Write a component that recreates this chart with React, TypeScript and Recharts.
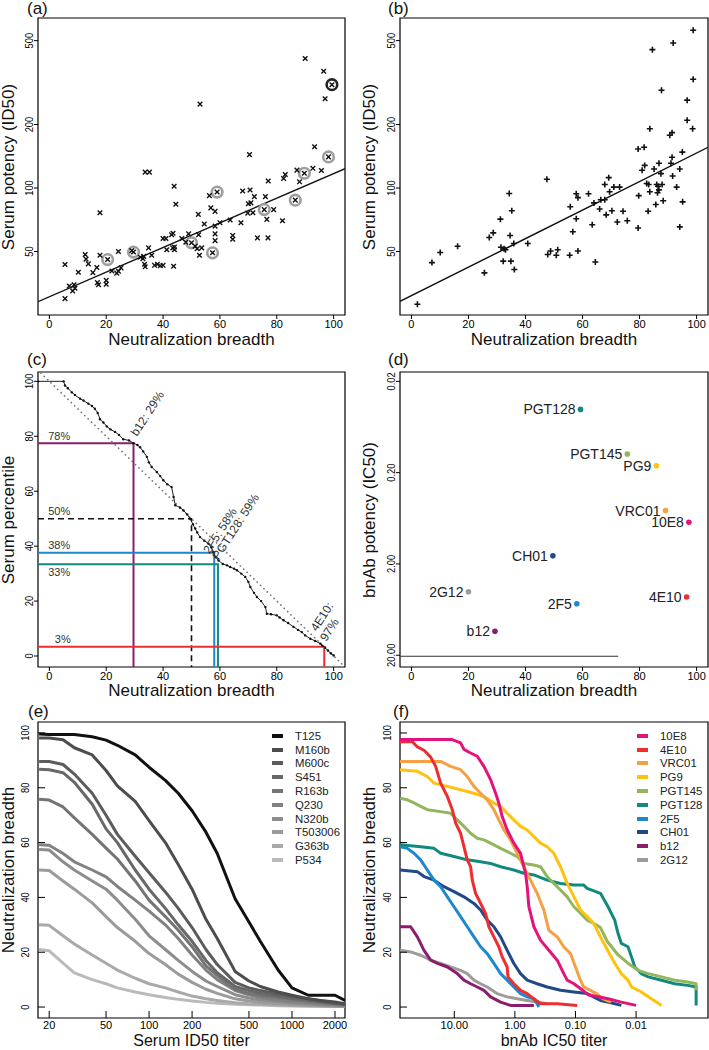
import React from "react";
import { ComposedChart, Line, Scatter, XAxis, YAxis, ReferenceArea } from "recharts";

const FONT = '"Liberation Sans", Arial, Helvetica, sans-serif';

const breadthTicks = [0, 20, 40, 60, 80, 100];
const potencyTicks = [50, 100, 200, 500];
const ic50Ticks = [0.02, 0.2, 2, 20];
const titerTicks = [20, 50, 100, 200, 500, 1000, 2000];
const bnabTiterTicks = [10, 1, 0.1, 0.01];

// (a) serum potency vs neutralization breadth (x marks)
const aBreadth = [5.5, 5.5, 7.0, 8.2, 9.0, 8.7, 10.2, 12.6, 12.9, 13.7, 15.3, 16.7, 16.9, 17.3, 17.8, 17.8, 20, 20, 20.5, 22, 23.7, 24.3, 24.3, 25.2, 29.6, 29, 32, 32.9, 33.2, 33.5, 33.7, 33.7, 35.2, 34.9, 36, 37, 38, 39, 40, 40, 41, 41.3, 43.4, 43.7, 43.9, 44.5, 43, 43.5, 44, 44, 46.6, 48, 49, 50, 51.3, 52, 52.5, 52.8, 52.4, 53, 53.6, 54.5, 56.3, 56.8, 57.4, 58.3, 58.3, 58.3, 58.3, 59, 60, 63.6, 64.5, 64.5, 67.4, 68, 69.8, 70, 70.4, 70.6, 70.9, 71.6, 72.1, 73.2, 75.6, 76, 76.5, 76.9, 77, 78.9, 82, 82.4, 83, 86.5, 87.1, 88, 89.7, 90, 92.7, 93.3, 95.7, 96.5, 97, 98.2, 99.4];
const aPotency = [43.4, 29.9, 34.3, 32.5, 33.5, 34.8, 39.9, 48.4, 46, 43.7, 39.7, 42, 35.6, 34.8, 76.3, 48, 35, 36.5, 45.8, 40.4, 39.5, 40.3, 50, 41.8, 49.7, 50.5, 47, 46.2, 47.4, 43.5, 42.3, 119, 119, 52, 48, 43, 43.5, 42.8, 43, 57.6, 57.6, 51, 52, 42.6, 102, 83.8, 60, 61, 51, 52.5, 57.6, 55.3, 60.6, 55, 53, 51.5, 60, 48, 75, 250, 52, 67.5, 92, 80.5, 49.3, 77.5, 66, 60.6, 56.3, 95.7, 68.5, 70.5, 59.6, 57.2, 68.4, 96.8, 76, 84.2, 144, 97.8, 85, 76.4, 91, 58, 79, 91, 71, 58, 108, 79, 70, 111, 116, 87.6, 121.6, 107, 117.5, 411, 124, 157, 121, 358, 265, 140.5, 309];
const aRingBreadth = [20.5, 29.6, 50, 57.4, 59, 75.6, 86.5, 89.7, 98.2];
const aRingPotency = [45.8, 49.7, 55, 49.3, 95.7, 79, 87.6, 117.5, 140.5];
const aDarkRingBreadth = [99.4];
const aDarkRingPotency = [309];
const aFitBreadth = [-4, 104];
const aFitPotency = [28.9, 123.6];

// (b) second serum panel (+ marks)
const bBreadth = [2.1, 7.2, 10.1, 16.2, 25.6, 27.3, 28.7, 31.2, 31.4, 32.5, 33, 32.2, 34.3, 34.6, 34.9, 35.2, 35.9, 36.1, 40.8, 47.5, 47.8, 48.8, 50.8, 51.3, 55.5, 55.7, 56.6, 57.8, 57.8, 58.4, 58.4, 62.1, 63.4, 64, 64.5, 66, 66.4, 67.8, 67.8, 68.3, 69.2, 69.5, 70.3, 71, 73, 74.2, 72.2, 75.7, 79.5, 79.7, 79.5, 81.6, 80.9, 81.8, 82.5, 83.2, 83, 83.6, 83.6, 84.5, 85.1, 85.7, 86, 86.5, 86.8, 86.3, 86.8, 87.5, 87.7, 87.9, 88.3, 90.6, 91.4, 91, 91.4, 91.6, 91.8, 93, 94.1, 94.1, 95, 95.1, 96.7, 96.7, 98.6, 98.8, 98.8];
const bPotency = [28.1, 44.3, 49.5, 53, 39.6, 58.3, 61.3, 71.2, 52.4, 51.5, 51, 45, 94.2, 59.6, 45, 78, 54.6, 41.1, 54.6, 110, 48.4, 50.3, 48, 51, 48, 81.5, 62, 71.5, 94, 90, 50.3, 94, 67, 85, 44.6, 79.5, 88, 88, 104, 74.6, 112, 96, 78, 101, 101, 77.6, 69, 70, 64.6, 92, 153, 156, 121.5, 128, 105, 104, 77.6, 191, 96, 453, 123, 83.6, 104, 102, 98, 95, 131, 117, 291, 104, 87, 178, 183, 131, 140, 114, 487, 101, 123, 65.4, 148, 86, 261, 209.6, 191, 328, 560];
const bFitBreadth = [-4, 104];
const bFitPotency = [29, 156];

// (c) serum percentile vs breadth
const cCurveBreadth = [-4, 5, 5.5, 6.5, 7.9, 9, 10.8, 12, 13.7, 15, 16, 17, 17.8, 19, 20.2, 21.5, 23.1, 24.5, 26, 28, 29.6, 31, 31.9, 33, 34.3, 35, 36, 37.8, 39, 40.1, 41.5, 43, 43.7, 44.3, 46, 47.2, 48.5, 49.5, 50.5, 51.3, 52, 53, 54.5, 56, 57, 57.7, 58.5, 59.5, 61, 62.5, 63.6, 65, 66, 67.5, 68.9, 70, 70.7, 72, 73, 74.5, 76, 76.5, 78, 80, 81, 82.4, 84, 85.9, 87.5, 88.8, 90, 91.8, 93.5, 95.3, 96, 97, 98, 99, 100];
const cCurvePct = [100, 100, 98.5, 97.5, 96, 95, 93.7, 93, 91.9, 91, 90, 88.5, 86.2, 85, 83.6, 82.5, 81.6, 80.5, 78.9, 78.5, 77.5, 76.8, 76, 74.5, 72.5, 70.5, 68.8, 67, 65.5, 64, 62.5, 61.5, 57.9, 54.9, 54, 53, 51.5, 50, 48, 46.4, 45, 43.3, 42, 40.9, 39.5, 37.9, 36, 34.8, 33.5, 33, 32.4, 31.8, 31.2, 30, 28.8, 27, 25.1, 23, 21.5, 20, 17.8, 15.4, 15.2, 14.8, 14, 13, 12, 10.6, 9.5, 8.7, 7.5, 6.3, 5.5, 4.5, 3.8, 3, 2, 1, 0.2];
const cDiagBreadth = [-3, 103];
const cDiagPct = [103, -3];
const cCutBreadth = [29.6, 50, 58, 59.3, 96.7];
const cCutPct = [77.5, 50, 37.6, 33.4, 3.4];
const cPctText = ["78%", "50%", "38%", "33%", "3%"];
const cPctTextX = [-0.4, -0.4, -0.4, -0.4, 1.9];
const cPctTextY = [78.8, 51.3, 38.9, 29.2, 4.8];
const cAbText = ["b12: 29%", "2F5: 58%", "PGT128: 59%", "4E10:", "97%"];
const cAbTextX = [30.8, 56.3, 59.5, 94.1, 97.4];
const cAbTextY = [79.7, 37, 34.8, 8.7, 5.1];

// (d) bnAb potency vs breadth
const abNames = ["10E8", "4E10", "VRC01", "PG9", "PGT145", "PGT128", "2F5", "CH01", "b12", "2G12"];
const dBreadth = [97.3, 96.5, 89.1, 85.9, 75.7, 59.3, 58, 49.6, 29.3, 20];
const dIC50 = [0.7, 4.6, 0.52, 0.168, 0.125, 0.0406, 5.46, 1.63, 10.9, 4.03];
const dBaseBreadth = [-4, 72.5];
const dBaseIC50 = [20.5, 20.5];

// (e) breadth vs serum ID50 titer
const serumNames = ["T125", "M160b", "M600c", "S451", "R163b", "Q230", "N320b", "T503006", "G363b", "P534"];
const eTiters = [17, 20, 25, 30, 40, 50, 60, 80, 100, 130, 160, 200, 250, 300, 400, 500, 600, 800, 1000, 1300, 1600, 2000, 2350];
const eT125 = [99.6, 99.4, 99.4, 99.4, 98.6, 97.4, 95.5, 92, 87.5, 82.7, 78, 71.6, 63.8, 56, 39.5, 31, 24, 13.5, 7, 4.3, 4.3, 4.3, 2.4];
const eM160b = [98.2, 98.2, 97.5, 94.6, 92, 86.3, 80.7, 75, 68, 60, 52, 43, 32, 25, 13, 9.5, 7.5, 5.5, 4.3, 3, 2.4, 1.8, 1.2];
const eM600c = [89.6, 89.6, 88.5, 85, 78, 70, 63, 55, 49, 42, 36, 29, 21, 15.5, 9, 7, 6, 4.8, 3.8, 3, 2.2, 1.5, 1];
const eS451 = [86.8, 86.6, 85.5, 82, 74, 65, 60, 50, 43, 36, 30, 24, 17, 12.5, 7.5, 6, 5, 4, 3.2, 2.4, 1.8, 1.2, 0.8];
const eR163b = [75.8, 75.5, 73, 69, 63, 58, 54, 46, 39, 33, 28, 22, 15, 11.5, 6.5, 5, 4.2, 3.5, 2.8, 2.2, 1.7, 1.2, 0.9];
const eQ230 = [59.2, 59, 56, 53, 50, 47.5, 44, 39, 35, 30, 25, 19, 13.5, 10, 6, 4.5, 3.5, 2.6, 2, 1.5, 1.1, 0.8, 0.6];
const eN320b = [57.5, 57.3, 53, 50, 46, 43, 39, 32, 26, 21, 17, 13, 9.5, 7.5, 4.5, 3.3, 2.6, 2, 1.5, 1.1, 0.8, 0.6, 0.4];
const eT503006 = [50, 49.8, 46, 43, 38, 33, 29, 24, 19.5, 15.5, 12, 9, 6.5, 5, 3, 2.2, 1.7, 1.2, 0.9, 0.6, 0.5, 0.4, 0.3];
const eG363b = [30, 29.8, 26, 23, 19, 16, 13.5, 10.5, 8.5, 7, 5.5, 4, 3, 2.4, 1.6, 1.2, 1, 0.8, 0.6, 0.5, 0.4, 0.3, 0.3];
const eP534 = [21, 20.5, 16, 12.5, 10, 8.5, 7, 5.5, 4.5, 3.5, 2.8, 2.2, 1.7, 1.4, 1, 0.8, 0.7, 0.5, 0.4, 0.3, 0.3, 0.2, 0.2];
const eSeries = [eT125, eM160b, eM600c, eS451, eR163b, eQ230, eN320b, eT503006, eG363b, eP534];

// (f) breadth vs bnAb IC50 titer
const f10E8Ic = [78.7, 10.8, 7.87, 6.93, 5.38, 4.18, 3.24, 2.52, 2.08, 1.84, 1.62, 1.34, 1.04, 0.807, 0.667, 0.626, 0.588, 0.486, 0.378, 0.275, 0.2, 0.156, 0.137, 0.106, 0.08, 0.062, 0.029, 0.0175, 0.01];
const f10E8Br = [97.6, 97.6, 96.4, 94, 92.7, 91.5, 87.8, 83, 78, 74.4, 69.5, 64.6, 59.8, 56.1, 48.8, 43.9, 36.6, 29.3, 24.4, 20.7, 17.1, 12.2, 9.8, 8.5, 6.5, 4.5, 3, 1.8, 0.6];
const f4E10Ic = [78.7, 49.2, 40.7, 31.6, 24.5, 20.3, 16.8, 13, 10.8, 9.5, 7.87, 6.93, 6.11, 5.38, 5.05, 4.45, 3.68, 3.05, 2.69, 2.22, 1.84, 1.62, 1.34, 1.3, 1.04, 0.807, 0.626, 0.486, 0.378, 0.2, 0.094];
const f4E10Br = [96.8, 96.8, 94.9, 93.7, 91.2, 87.8, 81.7, 76.8, 72, 67.1, 63.4, 58.5, 53.7, 51.2, 46.3, 41.5, 37.8, 34.2, 29.3, 25.6, 22, 18.3, 14.6, 11, 8.5, 6.1, 4.9, 3, 1.2, 1.2, 0.6];
const fVRC01Ic = [78.7, 16.8, 11.5, 7.87, 6.11, 4.74, 3.68, 2.86, 2.22, 1.84, 1.52, 1.18, 0.916, 0.711, 0.552, 0.429, 0.333, 0.275, 0.2, 0.156, 0.121, 0.1, 0.0828, 0.073, 0.0567, 0.045, 0.035, 0.026];
const fVRC01Br = [89.6, 89.6, 87.8, 86.6, 84.1, 80.5, 78, 75.6, 72, 68.3, 64.6, 61, 56.1, 51.2, 46.3, 41.5, 35.4, 28, 25.6, 22, 19.5, 14.6, 9.8, 7.3, 6.1, 4.9, 3, 1.8];
const fPG9Ic = [78.7, 40.7, 27.9, 21.6, 13, 7.87, 4.74, 3.24, 2.22, 1.72, 1.34, 1.04, 0.807, 0.626, 0.486, 0.378, 0.293, 0.228, 0.177, 0.137, 0.106, 0.0828, 0.0642, 0.0499, 0.0387, 0.03, 0.0225, 0.0175, 0.0136, 0.0119, 0.0082, 0.0056, 0.0038];
const fPG9Br = [86.6, 86, 84.1, 81.7, 80.5, 79.3, 78, 76.8, 74.4, 73.2, 70.7, 68.3, 65.9, 64.6, 62.2, 59.8, 58.5, 56.1, 51.2, 45.1, 40.2, 35.4, 33, 30.5, 25.6, 21, 16, 12.2, 9.8, 7.3, 5.5, 3, 0.6];
const fPGT145Ic = [78.7, 59.6, 46.2, 35.9, 27.9, 16.8, 11.5, 8.93, 6.93, 5.38, 4.18, 3.24, 2.52, 1.72, 1.18, 0.916, 0.711, 0.486, 0.378, 0.293, 0.228, 0.177, 0.137, 0.106, 0.0828, 0.0642, 0.0499, 0.0387, 0.03, 0.0198, 0.0136, 0.0093, 0.0063, 0.0038, 0.0023, 0.0014, 0.00102, 0.00102];
const fPGT145Br = [76.2, 75.6, 74.5, 73.2, 72, 71.3, 70.7, 68.3, 65.9, 63.4, 61.6, 61, 59.8, 57.9, 56.1, 54.9, 52.4, 51.8, 51.2, 47.6, 45.1, 42.7, 40.2, 36.6, 34.2, 31.7, 30.5, 29, 24, 19, 16, 13.4, 12.2, 11, 9.8, 9.1, 8.5, 6.1];
const fPGT128Ic = [78.7, 35.9, 21.6, 16.8, 10.1, 6.11, 3.68, 2.52, 1.72, 1.04, 0.711, 0.486, 0.293, 0.177, 0.106, 0.073, 0.0642, 0.0387, 0.029, 0.0225, 0.0198, 0.0175, 0.0136, 0.0119, 0.0105, 0.0082, 0.0063, 0.0038, 0.0023, 0.0014, 0.00102, 0.00102];
const fPGT128Br = [59.2, 58.5, 57.9, 56.1, 54.9, 53.7, 53, 52.4, 51.2, 50, 48.8, 48.2, 46.3, 45.1, 44.5, 44.5, 43.3, 41.5, 36.6, 31.7, 26.8, 23.2, 22, 18.3, 14.6, 12.2, 11, 9.8, 8.5, 7.9, 7.3, 0.6];
const f2F5Ic = [78.7, 59.6, 46.2, 35.9, 27.9, 21.6, 16.8, 13, 10.1, 7.87, 6.11, 4.74, 3.68, 2.86, 2.22, 1.72, 1.34, 1.04, 0.807, 0.626, 0.486, 0.429, 0.402];
const f2F5Br = [58.5, 57.9, 56.1, 53.7, 50, 46.3, 43.9, 40.2, 36.6, 33, 29.3, 25.6, 22, 19.5, 15.9, 12.2, 9.8, 7.3, 4.9, 3.7, 3, 1.2, 0];
const fCH01Ic = [78.7, 40.7, 31.6, 21.6, 14.8, 10.1, 6.93, 4.74, 3.68, 2.86, 2.22, 1.72, 1.34, 1.04, 0.807, 0.626, 0.429, 0.293, 0.177, 0.106, 0.0642, 0.0387, 0.025, 0.0175];
const fCH01Br = [50, 49.4, 47.6, 46.3, 43.9, 42.1, 40.2, 37.8, 35.4, 31.7, 29.3, 25.6, 20.7, 15.9, 12.2, 9.8, 8.5, 7.3, 6.1, 5.5, 4.9, 2.4, 1.5, 0.6];
const fB12Ic = [78.7, 52.5, 40.7, 31.6, 24.5, 19, 13, 8.93, 6.93, 5.38, 4.18, 3.24, 2.52, 1.72, 1.18, 0.486];
const fB12Br = [29.3, 29.3, 25.6, 20.7, 17.1, 15.9, 14.6, 12.2, 9.8, 8.5, 7.3, 6.1, 3.7, 1.8, 0.6, 0.6];
const f2G12Ic = [78.7, 52.5, 35.9, 24.5, 16.8, 11.5, 7.87, 6.11, 4.74, 3.68, 2.86, 1.97, 1.34, 0.916, 0.626, 0.429, 0.293];
const f2G12Br = [20.7, 20.1, 18.9, 17.1, 15.9, 14.6, 13.4, 12.2, 9.8, 8.5, 7.3, 4.9, 3.7, 3, 2.4, 1.8, 1.2];
const fSeries = [
  [f10E8Ic, f10E8Br], [f4E10Ic, f4E10Br], [fVRC01Ic, fVRC01Br], [fPG9Ic, fPG9Br], [fPGT145Ic, fPGT145Br],
  [fPGT128Ic, fPGT128Br], [f2F5Ic, f2F5Br], [fCH01Ic, fCH01Br], [fB12Ic, fB12Br], [f2G12Ic, f2G12Br],
];

const AB_COLORS = ["#E4137B", "#EE2D2F", "#F5A042", "#FFC20E", "#91B65E", "#12897E", "#1D87D0", "#1F4A87", "#8C1D6D", "#9C9C9C"];
const SERUM_GRAYS = ["#111111", "#4d4d4d", "#5c5c5c", "#686868", "#747474", "#818181", "#8d8d8d", "#9b9b9b", "#a9a9a9", "#bababa"];
const CUT_COLORS = ["#8C1D6D", "#111111", "#1D87D0", "#12897E", "#EE2D2F"];

const pts = (xs: number[], ys: number[]) => xs.map((x, i) => ({ x, y: ys[i] }));

const eRows = eTiters.map((t, i) => {
  const row: Record<string, number> = { titer: t };
  serumNames.forEach((n, k) => (row[n] = eSeries[k][i]));
  return row;
});

function RotTick(props: any) {
  const { x, y, payload, fmt } = props;
  const label = fmt ? fmt(payload.value) : String(payload.value);
  return (
    <text transform={`translate(${x},${y}) rotate(-90) scale(0.85,1)`} textAnchor="middle" fontSize={11} fontFamily={FONT} fill="#000">
      {label}
    </text>
  );
}

const XMark = (p: any) => {
  const { cx, cy } = p;
  const s = 2.3;
  return <path d={`M${cx - s},${cy - s}L${cx + s},${cy + s}M${cx - s},${cy + s}L${cx + s},${cy - s}`} stroke="#111" strokeWidth={1.4} fill="none" />;
};
const PlusMark = (p: any) => {
  const { cx, cy } = p;
  const s = 3;
  return <path d={`M${cx - s},${cy}L${cx + s},${cy}M${cx},${cy - s}L${cx},${cy + s}`} stroke="#111" strokeWidth={1.6} fill="none" />;
};
const GrayRing = (p: any) => <circle cx={p.cx} cy={p.cy} r={5.3} fill="none" stroke="#9e9e9e" strokeWidth={2.6} />;
const DarkRing = (p: any) => <circle cx={p.cx} cy={p.cy} r={5.3} fill="none" stroke="#222" strokeWidth={2.6} />;
const PctLabel = (p: any) => (
  <text x={p.cx} y={p.cy} fontSize={11} fontFamily={FONT} fill="#333">{p.payload.label}</text>
);
const AbLabel = (p: any) => (
  <text x={p.cx} y={p.cy} transform={`rotate(-57 ${p.cx} ${p.cy})`} fontSize={12} fontFamily={FONT} fill="#333">{p.payload.label}</text>
);
const AbDot = (p: any) => {
  const color = AB_COLORS[abNames.indexOf(p.payload.name)];
  return (
    <g>
      <circle cx={p.cx} cy={p.cy} r={2.8} fill={color} />
      <text x={p.cx - 5} y={p.cy} dy="0.36em" textAnchor="end" fontSize={14} fontFamily={FONT} fill="#222">{p.payload.name}</text>
    </g>
  );
};

const xOut = {
  type: "number" as const, dataKey: "x", allowDataOverflow: true, axisLine: false, tickSize: 4, tickMargin: 1,
  interval: 0 as const, tickLine: { stroke: "#000" }, tick: { fontSize: 11, fill: "#000", fontFamily: FONT },
};
const yOut = {
  type: "number" as const, dataKey: "y", allowDataOverflow: true, axisLine: false, tickSize: 4, tickMargin: 1,
  interval: 0 as const, tickLine: { stroke: "#000" },
};
const xIn = { ...xOut, tickSize: -7, tickMargin: 10.5 };
const yIn = { ...yOut, tickSize: -7, tickMargin: 16 };

const frame = { fill: "none", stroke: "#000", strokeWidth: 1.2, ifOverflow: "visible" as const };
const fmt2 = (v: number) => v.toFixed(2);

function Title({ text, cx, cy, vertical, size = 17 }: { text: string; cx: number; cy: number; vertical?: boolean; size?: number }) {
  return (
    <div
      style={{
        position: "absolute", left: cx, top: cy, whiteSpace: "nowrap", fontSize: size, lineHeight: "14px",
        fontFamily: FONT, color: "#111",
        transform: vertical ? "translate(-50%,-50%) rotate(-90deg)" : "translate(-50%,-50%)",
      }}
    >
      {text}
    </div>
  );
}

function PanelTag({ text, left, top }: { text: string; left: number; top: number }) {
  return <div style={{ position: "absolute", left, top, fontSize: 17, lineHeight: "17px", fontFamily: FONT, color: "#111" }}>{text}</div>;
}

function SwatchLegend({ names, colors, left, top }: { names: string[]; colors: string[]; left: number; top: number }) {
  return (
    <div style={{ position: "absolute", left, top, fontFamily: FONT, fontSize: 11.4, color: "#222" }}>
      {names.map((n, i) => (
        <div key={n} style={{ display: "flex", alignItems: "center", height: 13.8 }}>
          <span style={{ display: "inline-block", width: 11, height: 4, background: colors[i], marginRight: 12 }} />
          <span>{n}</span>
        </div>
      ))}
    </div>
  );
}

export default function App() {
  const cAnnPct = cPctText.map((label, i) => ({ x: cPctTextX[i], y: cPctTextY[i], label }));
  const cAnnAb = cAbText.map((label, i) => ({ x: cAbTextX[i], y: cAbTextY[i], label }));
  const dPoints = abNames.map((name, i) => ({ x: dBreadth[i], y: dIC50[i], name }));

  return (
    <div style={{ position: "absolute", left: 0, top: 0, width: 709, height: 1050, background: "#fff", overflow: "hidden" }}>
      {/* (a) */}
      <div style={{ position: "absolute", left: 0, top: 0 }}>
        <ComposedChart width={355} height={355} margin={{ top: 18, right: 10, bottom: 0, left: 0 }}>
          <XAxis {...xOut} domain={[-4, 104]} ticks={breadthTicks} height={40} />
          <YAxis {...yOut} scale="log" domain={[25, 640]} ticks={potencyTicks} width={38} tick={<RotTick />} />
          <ReferenceArea x1={-4} x2={104} y1={25} y2={640} {...frame} />
          <Line data={pts(aFitBreadth, aFitPotency)} dataKey="y" stroke="#111" strokeWidth={1.4} dot={false} isAnimationActive={false} />
          <Scatter data={pts(aRingBreadth, aRingPotency)} shape={GrayRing} isAnimationActive={false} />
          <Scatter data={pts(aDarkRingBreadth, aDarkRingPotency)} shape={DarkRing} isAnimationActive={false} />
          <Scatter data={pts(aBreadth, aPotency)} shape={XMark} isAnimationActive={false} />
        </ComposedChart>
      </div>

      {/* (b) */}
      <div style={{ position: "absolute", left: 355, top: 0 }}>
        <ComposedChart width={354} height={355} margin={{ top: 18, right: 1, bottom: 0, left: 0 }}>
          <XAxis {...xOut} domain={[-4, 104]} ticks={breadthTicks} height={40} />
          <YAxis {...yOut} scale="log" domain={[25, 640]} ticks={potencyTicks} width={45} tick={<RotTick />} />
          <ReferenceArea x1={-4} x2={104} y1={25} y2={640} {...frame} />
          <Line data={pts(bFitBreadth, bFitPotency)} dataKey="y" stroke="#111" strokeWidth={1.4} dot={false} isAnimationActive={false} />
          <Scatter data={pts(bBreadth, bPotency)} shape={PlusMark} isAnimationActive={false} />
        </ComposedChart>
      </div>

      {/* (c) */}
      <div style={{ position: "absolute", left: 0, top: 340 }}>
        <ComposedChart width={355} height={370} margin={{ top: 32, right: 10, bottom: 0, left: 0 }}>
          <XAxis {...xOut} domain={[-4, 104]} ticks={breadthTicks} height={43} />
          <YAxis {...yOut} domain={[-4, 103.4]} ticks={breadthTicks} width={38} tick={<RotTick />} />
          <ReferenceArea x1={-4} x2={104} y1={-4} y2={103.4} {...frame} />
          {cCutBreadth.map((b, i) => (
            <Line
              key={i}
              data={[{ x: -4, y: cCutPct[i] }, { x: b, y: cCutPct[i] }, { x: b, y: -4 }]}
              dataKey="y"
              stroke={CUT_COLORS[i]}
              strokeWidth={i === 1 ? 1.6 : 2}
              strokeDasharray={i === 1 ? "6 4" : undefined}
              dot={false}
              isAnimationActive={false}
            />
          ))}
          <Line data={pts(cDiagBreadth, cDiagPct)} dataKey="y" stroke="#777" strokeWidth={1.7} strokeDasharray="0.1 4.6" strokeLinecap="round" dot={false} isAnimationActive={false} />
          <Line data={pts(cCurveBreadth, cCurvePct)} dataKey="y" stroke="#222" strokeWidth={1} dot={{ r: 1.2, fill: "#111", stroke: "none" }} isAnimationActive={false} />
          <Scatter data={cAnnPct} shape={PctLabel} isAnimationActive={false} />
          <Scatter data={cAnnAb} shape={AbLabel} isAnimationActive={false} />
        </ComposedChart>
      </div>

      {/* (d) */}
      <div style={{ position: "absolute", left: 355, top: 340 }}>
        <ComposedChart width={354} height={370} margin={{ top: 32, right: 1, bottom: 0, left: 0 }}>
          <XAxis {...xOut} domain={[-4, 104]} ticks={breadthTicks} height={43} />
          <YAxis {...yOut} scale="log" reversed domain={[0.0158, 26.9]} ticks={ic50Ticks} width={45} tick={<RotTick fmt={fmt2} />} />
          <ReferenceArea x1={-4} x2={104} y1={0.0158} y2={26.9} {...frame} />
          <Line data={pts(dBaseBreadth, dBaseIC50)} dataKey="y" stroke="#333" strokeWidth={1.2} dot={false} isAnimationActive={false} />
          <Scatter data={dPoints} shape={AbDot} isAnimationActive={false} />
        </ComposedChart>
      </div>

      {/* (e) */}
      <div style={{ position: "absolute", left: 0, top: 700 }}>
        <ComposedChart width={355} height={350} data={eRows} margin={{ top: 22, right: 10, bottom: 0, left: 0 }}>
          <XAxis {...xIn} dataKey="titer" scale="log" domain={[16.7, 2350]} ticks={titerTicks} height={32} />
          <YAxis {...yIn} domain={[-4, 104]} ticks={breadthTicks} width={38} tick={<RotTick />} />
          <ReferenceArea x1={16.7} x2={2350} y1={-4} y2={104} {...frame} />
          {serumNames
            .map((n, i) => ({ n, i }))
            .reverse()
            .map(({ n, i }) => (
              <Line key={n} dataKey={n} stroke={SERUM_GRAYS[i]} strokeWidth={3} strokeLinejoin="round" dot={false} isAnimationActive={false} />
            ))}
        </ComposedChart>
      </div>

      {/* (f) */}
      <div style={{ position: "absolute", left: 355, top: 700 }}>
        <ComposedChart width={354} height={350} margin={{ top: 22, right: 1, bottom: 0, left: 0 }}>
          <XAxis {...xIn} scale="log" reversed domain={[0.00065, 78.7]} ticks={bnabTiterTicks} tickFormatter={fmt2} height={32} />
          <YAxis {...yIn} domain={[-4, 104]} ticks={breadthTicks} width={45} tick={<RotTick />} />
          <ReferenceArea x1={0.00065} x2={78.7} y1={-4} y2={104} {...frame} />
          {fSeries
            .map((s, i) => ({ s, i }))
            .reverse()
            .map(({ s, i }) => (
              <Line key={abNames[i]} data={pts(s[0], s[1])} dataKey="y" stroke={AB_COLORS[i]} strokeWidth={3} strokeLinejoin="round" dot={false} isAnimationActive={false} />
            ))}
        </ComposedChart>
      </div>

      <SwatchLegend names={serumNames} colors={SERUM_GRAYS} left={272} top={729} />
      <SwatchLegend names={abNames} colors={AB_COLORS} left={637} top={729} />

      <PanelTag text="(a)" left={27} top={0} />
      <PanelTag text="(b)" left={388} top={0} />
      <PanelTag text="(c)" left={27} top={351} />
      <PanelTag text="(d)" left={388} top={351} />
      <PanelTag text="(e)" left={28} top={703} />
      <PanelTag text="(f)" left={393} top={703} />

      <Title text="Neutralization breadth" cx={191.5} cy={340} />
      <Title text="Neutralization breadth" cx={554} cy={340} />
      <Title text="Neutralization breadth" cx={191.5} cy={691} />
      <Title text="Neutralization breadth" cx={554} cy={691} />
      <Title text="Serum ID50 titer" cx={191.5} cy={1041} size={16} />
      <Title text="bnAb IC50 titer" cx={554} cy={1041} size={16} />

      <Title text="Serum potency (ID50)" cx={8.5} cy={166.5} vertical />
      <Title text="Serum potency (ID50)" cx={370} cy={166.5} vertical />
      <Title text="Serum percentile" cx={8.5} cy={519.5} vertical />
      <Title text="bnAb potency (IC50)" cx={370} cy={519.5} vertical />
      <Title text="Neutralization breadth" cx={8.5} cy={870} vertical />
      <Title text="Neutralization breadth" cx={370} cy={870} vertical />
    </div>
  );
}
